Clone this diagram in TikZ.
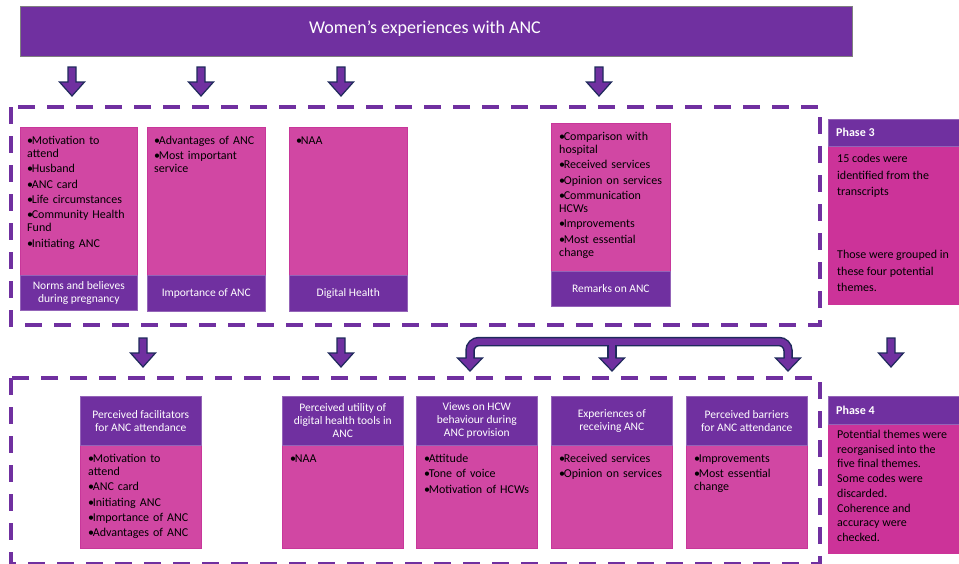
\documentclass[tikz,border=0pt]{standalone}
\usepackage{fontspec}
\setmainfont{Carlito}
\definecolor{ppl}{HTML}{7030A0}
\definecolor{pnk}{HTML}{D147A3}
\definecolor{pnkb}{HTML}{C8379A}
\definecolor{mag}{HTML}{CC3399}
\definecolor{navy}{HTML}{1F2A5C}
\newcommand\bl[1]{\par\hangindent=4.6pt\hangafter=1\noindent\makebox[4.6pt][l]{\textbullet}#1}
\tikzset{
  pinkbox/.style={draw=pnkb, line width=1pt, fill=pnk, anchor=north west, inner sep=0pt},
  pplbox/.style={draw=ppl!75!white, line width=0.6pt, fill=ppl, anchor=north west, inner sep=2pt,
     text=white, align=center, font=\fontsize{11.5}{13}\selectfont},
  blist/.style={anchor=north west, inner sep=0pt, text width=112pt, align=left,
     font=\fontsize{12}{13}\selectfont\setlength{\parskip}{2.3pt}},
  dashframe/.style={draw=ppl, line width=4pt, dash pattern=on 17pt off 12pt},
  phhead/.style={fill=ppl, draw=ppl!75!white, line width=0.6pt, anchor=north west, inner sep=0pt},
  phbody/.style={fill=mag, anchor=north west, inner sep=0pt},
  phtext/.style={anchor=north west, inner sep=0pt, align=left},
  dnarrow/.pic={\draw[navy, fill=ppl, line width=1.2pt, line join=miter]
     (-4,0)--(4,0)--(4,15)--(12.5,15)--(0,29)--(-12.5,15)--(-4,15)--cycle;},
  dnhead/.pic={\fill[ppl] (-12.5,0)--(12.5,0)--(0,13)--cycle;
     \draw[navy, line width=1.2pt, line join=miter] (-3.4,0)--(-12.5,0)--(0,13)--(12.5,0)--(3.4,0);}
}
\begin{document}
\begin{tikzpicture}[x=1pt, y=-1pt]
\useasboundingbox (0,0) rectangle (959,563);
% title
\node[fill=ppl, draw=gray, line width=0.8pt, anchor=north west, minimum width=832pt, minimum height=50pt, inner sep=0pt] (title) at (20,6) {};
\node[text=white, font=\fontsize{18}{20}\selectfont] (titletxt) at (425,29) {Women’s experiences with ANC};
% top arrows
\pic at (72,67) {dnarrow};
\pic at (201,67) {dnarrow};
\pic at (341,67) {dnarrow};
\pic at (599,67) {dnarrow};
% phase 3 frame
\draw[dashframe] (11,107) rectangle (820,325);
% phase 3 boxes
\node[pinkbox, minimum width=117pt, minimum height=148pt] (a1) at (20,127) {};
\node[pplbox, minimum width=117pt, minimum height=35pt] (a1l) at (20,275) {Norms and believes\\during pregnancy};
\node[blist] (a1t) at (27,129) {\bl{Motivation to\\attend}\bl{Husband}\bl{ANC card}\bl{Life circumstances}\bl{Community Health\\Fund}\bl{Initiating ANC}};
\node[pinkbox, minimum width=118pt, minimum height=148pt] (a2) at (147,127) {};
\node[pplbox, minimum width=118pt, minimum height=36pt] (a2l) at (147,275) {Importance of ANC};
\node[blist] (a2t) at (154,129) {\bl{Advantages of ANC}\bl{Most important\\service}};
\node[pinkbox, minimum width=118pt, minimum height=148pt] (a3) at (289,127) {};
\node[pplbox, minimum width=118pt, minimum height=36pt] (a3l) at (289,275) {Digital Health};
\node[blist] (a3t) at (296,129) {\bl{NAA}};
\node[pinkbox, minimum width=119pt, minimum height=148pt] (a4) at (551,123) {};
\node[pplbox, minimum width=119pt, minimum height=35pt] (a4l) at (551,271) {Remarks on ANC};
\node[blist] (a4t) at (559,125) {\bl{Comparison with\\hospital}\bl{Received services}\bl{Opinion on services}\bl{Communication\\HCWs}\bl{Improvements}\bl{Most essential\\change}};
% phase 3 side
\node[phbody, minimum width=131pt, minimum height=159pt] (p3b) at (828,146) {};
\node[phhead, minimum width=131pt, minimum height=27pt] (p3h) at (828,119) {};
\node[anchor=west, inner sep=0pt, text=white, font=\fontsize{12}{14}\selectfont\bfseries] (p3ht) at (836,132.5) {Phase 3};
\node[phtext, font=\fontsize{12}{16.5}\selectfont] (p3t) at (837,154) {15 codes were\\identified from the\\transcripts\\[46.5pt]Those were grouped in\\these four potential\\themes.};
% middle arrows
\pic at (143,338) {dnarrow};
\pic at (341,338) {dnarrow};
\pic at (891,338) {dnarrow};
% bracket arrow
\coordinate (bl) at (470,358);
\coordinate (bm) at (612,358);
\coordinate (br) at (788,358);
\draw[navy, line width=9.5pt, rounded corners=9pt] (bl) |- (700,341.5) -| (br);
\draw[navy, line width=9.5pt] (bm) -- (612,341.5);
\draw[ppl, line width=6.5pt, rounded corners=9pt] (bl) |- (700,341.5) -| (br);
\draw[ppl, line width=6.5pt] (bm) -- (612,341.5);
\pic at (bl) {dnhead};
\pic at (bm) {dnhead};
\pic at (br) {dnhead};
% phase 4 frame
\draw[dashframe] (11,378) rectangle (820,564);
% phase 4 boxes
\node[pinkbox, minimum width=121pt, minimum height=103pt] (b1) at (80,445) {};
\node[pplbox, minimum width=121pt, minimum height=49pt] (b1h) at (80,396) {Perceived facilitators\\for ANC attendance};
\node[blist] (b1t) at (88,447) {\bl{Motivation to\\attend}\bl{ANC card}\bl{Initiating ANC}\bl{Importance of ANC}\bl{Advantages of ANC}};
\node[pinkbox, minimum width=121pt, minimum height=103pt] (b2) at (282,445) {};
\node[pplbox, minimum width=121pt, minimum height=49pt] (b2h) at (282,396) {Perceived utility of\\digital health tools in\\ANC};
\node[blist] (b2t) at (290,447) {\bl{NAA}};
\node[pinkbox, minimum width=121pt, minimum height=103pt] (b3) at (416,445) {};
\node[pplbox, minimum width=121pt, minimum height=49pt] (b3h) at (416,396) {Views on HCW\\behaviour during\\ANC provision};
\node[blist] (b3t) at (424,447) {\bl{Attitude}\bl{Tone of voice}\bl{Motivation of HCWs}};
\node[pinkbox, minimum width=121pt, minimum height=103pt] (b4) at (551,445) {};
\node[pplbox, minimum width=121pt, minimum height=49pt] (b4h) at (551,396) {Experiences of\\receiving ANC};
\node[blist] (b4t) at (559,447) {\bl{Received services}\bl{Opinion on services}};
\node[pinkbox, minimum width=121pt, minimum height=103pt] (b5) at (686,445) {};
\node[pplbox, minimum width=121pt, minimum height=49pt] (b5h) at (686,396) {Perceived barriers\\for ANC attendance};
\node[blist] (b5t) at (694,447) {\bl{Improvements}\bl{Most essential\\change}};
% phase 4 side
\node[phbody, minimum width=131pt, minimum height=130pt] (p4b) at (828,424) {};
\node[phhead, minimum width=131pt, minimum height=28pt] (p4h) at (828,396) {};
\node[anchor=west, inner sep=0pt, text=white, font=\fontsize{12}{14}\selectfont\bfseries] (p4ht) at (836,410) {Phase 4};
\node[phtext, font=\fontsize{12}{14.7}\selectfont] (p4t) at (837,430) {Potential themes were\\reorganised into the\\five final themes.\\Some codes were\\discarded.\\Coherence and\\accuracy were\\checked.};
\end{tikzpicture}
\end{document}
